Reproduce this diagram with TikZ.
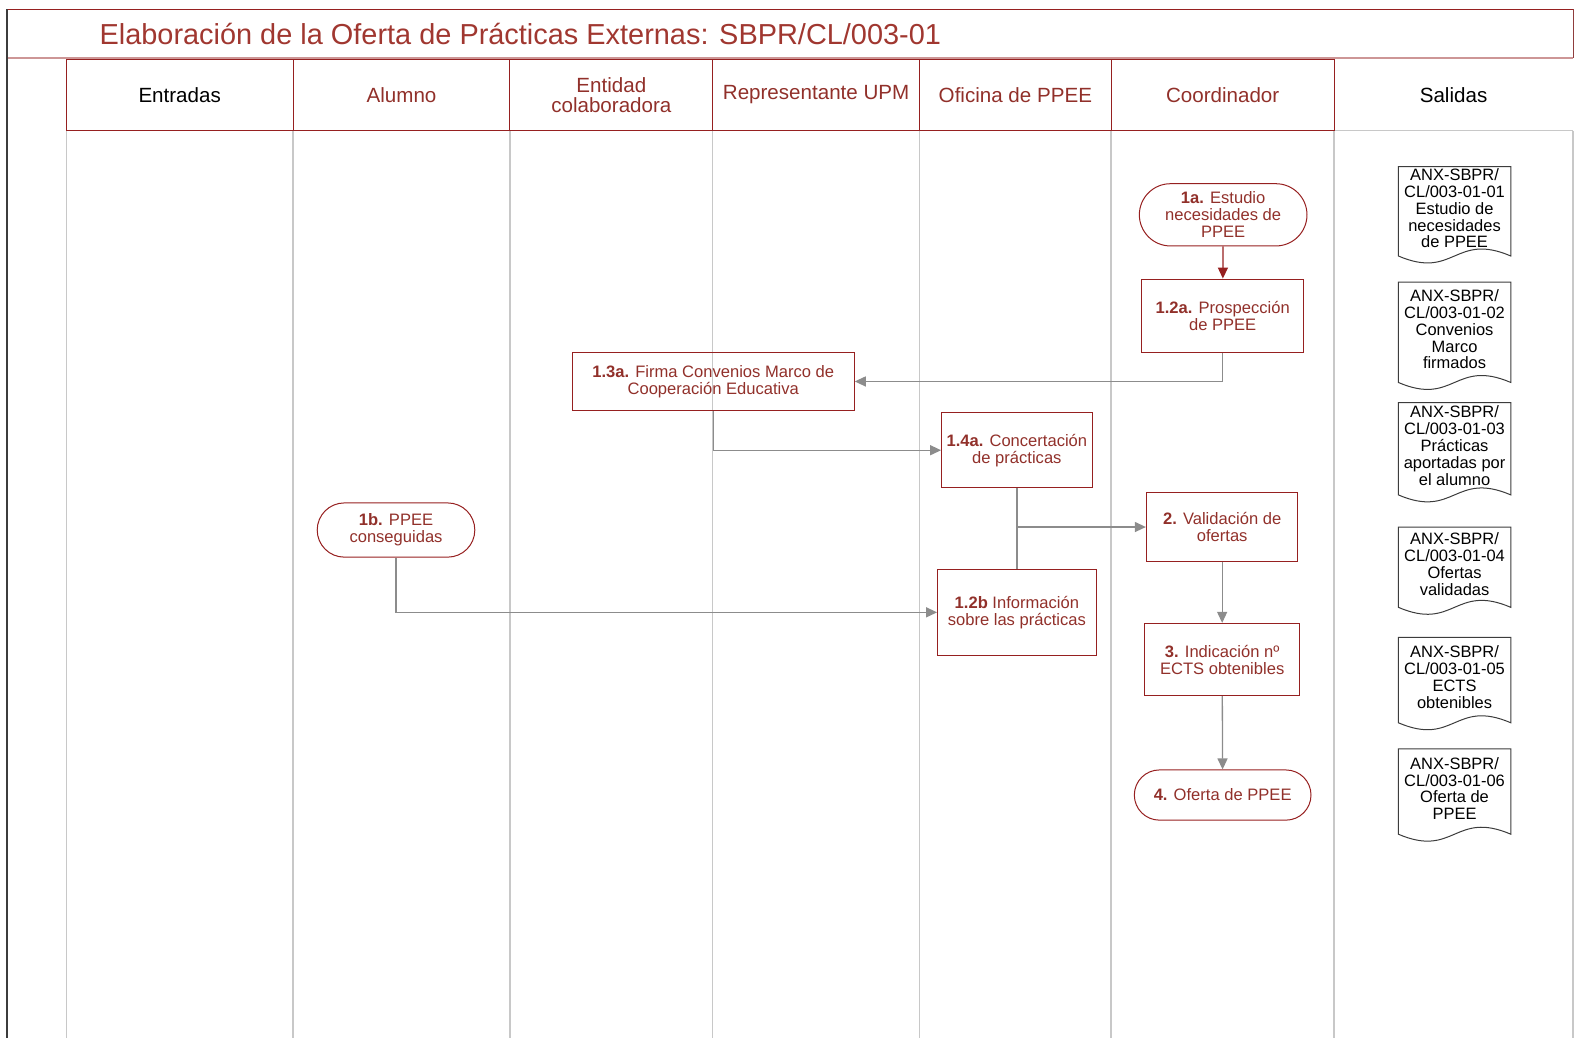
\documentclass[tikz,border=0pt]{standalone}
\usepackage{fontspec}
\setmainfont{Liberation Sans}
\usetikzlibrary{arrows.meta,calc}
\definecolor{dred}{RGB}{150,32,32}
\definecolor{tred}{RGB}{145,48,42}
\definecolor{titlered}{RGB}{160,55,48}
\definecolor{lanegray}{RGB}{200,200,200}
\definecolor{arrgray}{RGB}{140,140,140}
\definecolor{pinkline}{RGB}{205,150,150}
\definecolor{framegray}{RGB}{60,60,60}
\newcommand\mydocshape[4]{%
  \draw[docline] (1393,#2) -- (1505,#2) -- (1505,#3)
    .. controls (1449,{#3-24}) and (1449,{#3+24}) .. (1393,#3) -- cycle;
  \node[doctext] (#1) at (1449,{(#2+#3)/2-3}) {#4};
}
\begin{document}
\begin{tikzpicture}[x=1pt,y=-1pt,
  lane/.style={draw=lanegray, line width=1.5pt},
  hdr/.style={draw=dred, line width=1pt, text=tred, align=center, inner sep=0pt,
    minimum height=71pt, font=\fontsize{20.5}{20}\selectfont},
  proc/.style={draw=dred, line width=1pt, text=tred, align=center, inner sep=0pt,
    font=\fontsize{16.5}{17}\selectfont},
  term/.style={proc},
  flow/.style={draw=arrgray, line width=1.3pt, -{Triangle[length=11pt,width=10pt]}},
  redflow/.style={draw=dred, line width=1.3pt, -{Triangle[length=11pt,width=10pt]}},
  docline/.style={draw=framegray, line width=1pt},
  doctext/.style={text=black, align=center, inner sep=0pt, font=\fontsize{16.4}{16.8}\selectfont}
]
\useasboundingbox (0,0) rectangle (1568,1034);

% lanes
\foreach \x in {66,292,508,710,916,1107,1329,1567}
  \draw[lane] (\x,130) -- (\x,1034);
\draw[lane] (1329,130) -- (1567,130);

% frame and title
\draw[draw=pinkline, line width=2pt] (7,58) -- (1567,58);
\draw[draw=dred!70!gray, line width=1pt] (1567,9) -- (1567,58);
\draw[draw=dred, line width=1pt] (7,9) -- (1567,9);
\draw[draw=framegray, line width=1.5pt] (7,9) -- (7,1034);
\node[anchor=west, text=titlered, inner sep=0pt, font=\fontsize{28.8}{30}\selectfont] (title) at (99,34) {Elaboración de la Oferta de Prácticas Externas: SBPR/CL/003-01};

% headers
\node[hdr, minimum width=226pt, text=black] (hEnt) at (179,94.5) {Entradas};
\node[hdr, minimum width=216pt] (hAlu) at (400,94.5) {Alumno};
\node[hdr, minimum width=202pt] (hEnti) at (609,94.5) {Entidad\\colaboradora};
\node[hdr, minimum width=206pt] (hRep) at (813,94.5) {Representante UPM};
\node[hdr, minimum width=191pt] (hOfi) at (1011.5,94.5) {Oficina de PPEE};
\node[hdr, minimum width=222pt] (hCoo) at (1218,94.5) {Coordinador};
\node[hdr, minimum width=238pt, draw=none, text=black] (hSal) at (1448,94.5) {Salidas};

% process nodes
\node[term, minimum width=167pt, minimum height=62pt, rounded corners=31pt] (n1a) at (1218.5,214) {\textbf{1a.} Estudio\\necesidades de\\PPEE};
\node[proc, minimum width=161pt, minimum height=73pt] (n12a) at (1218,314.5) {\textbf{1.2a.} Prospección\\de PPEE};
\node[proc, minimum width=281pt, minimum height=58pt] (n13a) at (710.5,380) {\textbf{1.3a.} Firma Convenios Marco de\\Cooperación Educativa};
\node[proc, minimum width=150pt, minimum height=75pt] (n14a) at (1013,448.5) {\textbf{1.4a.} Concertación\\de prácticas};
\node[proc, minimum width=151pt, minimum height=68pt] (n2) at (1217.5,525) {\textbf{2.} Validación de\\ofertas};
\node[proc, minimum width=158pt, minimum height=86pt] (n12b) at (1013,610) {\textbf{1.2b} Información\\sobre las prácticas};
\node[term, minimum width=157pt, minimum height=54pt, rounded corners=27pt] (n1b) at (394.5,528) {\textbf{1b.} PPEE\\conseguidas};
\node[proc, minimum width=155pt, minimum height=72pt] (n3) at (1217.5,657) {\textbf{3.} Indicación nº\\ECTS obtenibles};
\node[term, minimum width=176pt, minimum height=50pt, rounded corners=25pt] (n4) at (1218,792) {\textbf{4.} Oferta de PPEE};

% connectors
\draw[redflow] (n1a) -- (n12a);
\draw[flow] (n12a.south) |- (n13a.east);
\draw[flow] (n13a.south) |- (n14a.west);
\draw[flow] (n14a.south) |- (n2.west);
\coordinate (junc) at (n12b.north |- n2.west);
\draw[draw=arrgray, line width=1.3pt] (n12b.north) -- (junc);
\draw[flow] (n1b.south) |- (n12b.west);
\draw[flow] (n2) -- (n3);
\draw[flow] (n3) -- (n4);

% documents
\mydocshape{d1}{166}{255}{ANX-SBPR/\\CL/003-01-01\\Estudio de\\necesidades\\de PPEE}
\mydocshape{d2}{281}{381}{ANX-SBPR/\\CL/003-01-02\\Convenios\\Marco\\firmados}
\mydocshape{d3}{401}{493}{ANX-SBPR/\\CL/003-01-03\\Prácticas\\aportadas por\\el alumno}
\mydocshape{d4}{525}{605}{ANX-SBPR/\\CL/003-01-04\\Ofertas\\validadas}
\mydocshape{d5}{635}{720}{ANX-SBPR/\\CL/003-01-05\\ECTS\\obtenibles}
\mydocshape{d6}{746}{831}{ANX-SBPR/\\CL/003-01-06\\Oferta de\\PPEE}
\end{tikzpicture}
\end{document}
